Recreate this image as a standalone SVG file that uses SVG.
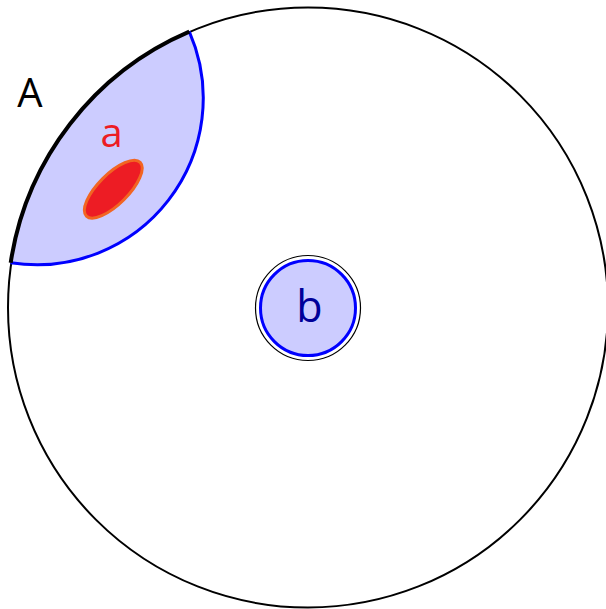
<svg xmlns="http://www.w3.org/2000/svg" width="606" height="609" viewBox="0 0 606 609">
<style>
text{font-family:"Open Sans","DejaVu Sans",sans-serif;font-size:40px;text-anchor:middle}
</style>
<rect width="606" height="609" fill="#fff"/>
<g id="outer">
<circle cx="308" cy="307.5" r="300" fill="none" stroke="#000" stroke-width="2"/>
</g>
<g id="regionA">
<path d="M10.7,262.7 A300,300 0 0 1 189.3,31.7 A166.4,166.4 0 0 1 10.7,262.7 Z" fill="#ccccff" stroke="none"/>
<path d="M189.3,31.7 A166.4,166.4 0 0 1 10.7,262.7" fill="none" stroke="#0000ff" stroke-width="3"/>
<path d="M10.7,262.7 A300,300 0 0 1 189.3,31.7" fill="none" stroke="#000" stroke-width="4"/>
<text x="30" y="107" fill="#000">A</text>
</g>
<g id="a">
<ellipse cx="113.3" cy="189.2" rx="38" ry="15" transform="rotate(-45 113.3 189.2)" fill="#ed1c24" stroke="#f26522" stroke-width="3"/>
<text x="111.5" y="147" fill="#ed1c24">a</text>
</g>
<g id="b">
<circle cx="308" cy="308" r="52.5" fill="none" stroke="#000" stroke-width="1.2"/>
<circle cx="308" cy="308" r="47.5" fill="#ccccff" stroke="#0000ff" stroke-width="3"/>
<text x="309.5" y="322" fill="#000099" style="font-size:43px">b</text>
</g>
</svg>
